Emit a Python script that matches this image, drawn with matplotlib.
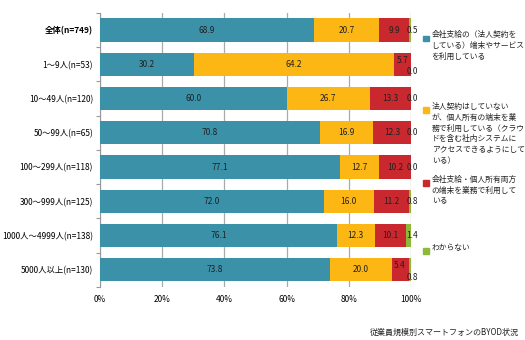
#!/usr/bin/env python3

"""
従業員規模別スマートフォンのBYOD状況 -- 100% stacked bars.
output: out.png
"""

import matplotlib.pyplot as plt
from matplotlib.patches import Rectangle

plt.rcParams['font.family'] = ['Noto Sans CJK JP', 'DejaVu Sans']

CATEGORIES = ["全体(n=749)", "1～9人(n=53)", "10～49人(n=120)", "50～99人(n=65)",
              "100～299人(n=118)", "300～999人(n=125)", "1000人～4999人(n=138)",
              "5000人以上(n=130)"]

COMPANY = [68.9, 30.2, 60.0, 70.8, 77.1, 72.0, 76.1, 73.8]
PERSONAL = [20.7, 64.2, 26.7, 16.9, 12.7, 16.0, 12.3, 20.0]
BOTH = [9.9, 5.7, 13.3, 12.3, 10.2, 11.2, 10.1, 5.4]
UNKNOWN = [0.5, 0.0, 0.0, 0.0, 0.0, 0.8, 1.4, 0.8]

SERIES_NAMES = [
    "会社支給の（法人契約を\nしている）端末やサービス\nを利用している",
    "法人契約はしていない\nが、個人所有の端末を業\n務で利用している（クラウ\nドを含む社内システムに\nアクセスできるようにして\nいる）",
    "会社支給・個人所有両方\nの端末を業務で利用して\nいる",
    "わからない",
]
COLORS = ["#3A91A8", "#FDB714", "#C8282E", "#8DB83A"]
TITLE = "従業員規模別スマートフォンのBYOD状況"

fig = plt.figure(figsize=(5.25, 3.4), dpi=100)
ax = fig.add_axes([0.1905, 0.156, 0.5924, 0.806])

series = [COMPANY, PERSONAL, BOTH, UNKNOWN]
ypos = list(range(len(CATEGORIES)))
lefts = [0.0] * len(CATEGORIES)
for vals, col in zip(series, COLORS):
    ax.barh(ypos, vals, left=lefts, height=0.68, color=col, zorder=3)
    lefts = [l + v for l, v in zip(lefts, vals)]

# labels for the three big series, centred in the segment
lefts = [0.0] * len(CATEGORIES)
for k, vals in enumerate(series[:3]):
    for i, v in enumerate(vals):
        dy = 0
        if k == 2 and BOTH[i] < 7:
            dy = -0.12
        ax.text(lefts[i] + v / 2, i + dy, "%.1f" % v, ha='center', va='center',
                fontsize=6, color='#222222', zorder=4)
    lefts = [l + v for l, v in zip(lefts, vals)]

# labels for the last, thin series
for i, v in enumerate(UNKNOWN):
    dy = 0
    if BOTH[i] < 7:
        dy = 0.22
    ax.text(100.5, i + dy, "%.1f" % v, ha='center', va='center',
            fontsize=6, color='#222222', zorder=4)

ax.set_xlim(0, 100)
ax.set_ylim(len(CATEGORIES) - 0.5, -0.5)
ax.set_xticks([0, 20, 40, 60, 80, 100])
ax.set_xticklabels(["0%", "20%", "40%", "60%", "80%", "100%"], fontsize=6)
ax.set_yticks([y - 0.5 for y in range(len(CATEGORIES) + 1)], minor=False)
ax.set_yticklabels([])
ax.set_yticks(ypos, minor=True)
ax.set_yticklabels(CATEGORIES, minor=True, fontsize=6)
for lbl in ax.get_yticklabels(minor=True)[:1]:
    lbl.set_fontweight('bold')
ax.tick_params(axis='y', which='minor', length=0, pad=5)
ax.tick_params(axis='y', which='major', length=3, color='#999999', direction='out')
ax.tick_params(axis='x', length=0, pad=6)
ax.grid(axis='x', color='#AAAAAA', linewidth=0.9, zorder=0)
for s in ['top', 'right', 'bottom']:
    ax.spines[s].set_visible(False)
ax.spines['left'].set_color('#999999')

# legend built by hand
leg_y = [0.908, 0.697, 0.484, 0.283]
for name, col, y in zip(SERIES_NAMES, COLORS, leg_y):
    fig.add_artist(Rectangle((0.806, y - 0.030), 0.011, 0.017, color=col,
                             transform=fig.transFigure))
    fig.text(0.822, y, name, fontsize=5.6, va='top', ha='left',
             linespacing=1.45, color='#222222')

fig.text(0.988, 0.022, TITLE, fontsize=5.8, ha='right', va='center', color='#222222')

plt.savefig("out.png", dpi=100)
